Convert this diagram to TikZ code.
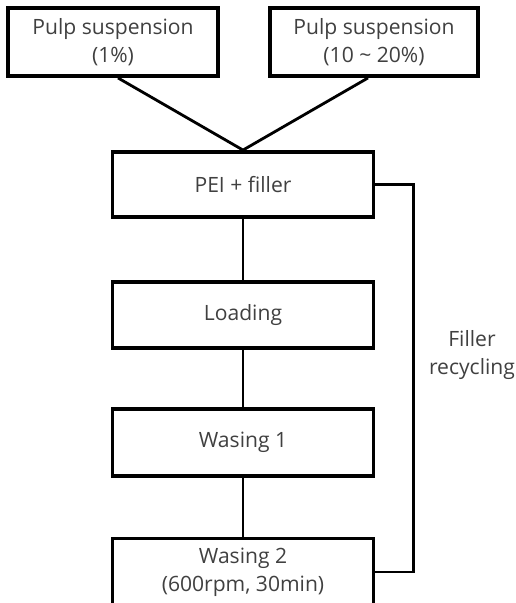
\documentclass[tikz,border=0pt]{standalone}
\usepackage{fontspec}
\setmainfont{Open Sans}
\begin{document}
\begin{tikzpicture}[%
  x=0.02cm,y=-0.02cm,
  step box/.style={draw,line width=2.2pt,text=black!75,align=center,
    inner sep=0pt,font=\fontsize{12}{16}\selectfont},
  lnk/.style={line width=1.6pt},
  w/.style={anchor=west}]
  \useasboundingbox (0,0) rectangle (516,603);
  \node[step box,minimum width=210*0.02cm,minimum height=68*0.02cm] (p1) at (113,42)
    {Pulp suspension\\(1\%)};
  \node[step box,minimum width=208*0.02cm,minimum height=68*0.02cm] (p2) at (374,42)
    {Pulp suspension\\(10 \textasciitilde{} 20\%)};
  \node[step box,minimum width=261*0.02cm,minimum height=65*0.02cm] (pei) at (243,184.5)
    {PEI + filler};
  \node[step box,minimum width=261*0.02cm,minimum height=66*0.02cm] (load) at (243,315)
    {Loading};
  \node[step box,minimum width=261*0.02cm,minimum height=67*0.02cm] (w1) at (243,442.5)
    {Wasing 1};
  \node[step box,minimum width=261*0.02cm,minimum height=67*0.02cm] (w2) at (243,572)
    {Wasing 2\\(600rpm, 30min)};
  \draw[lnk] ([xshift=0.1cm]p1.south) -- (pei.north)
    ([xshift=-0.12cm]p2.south) -- (pei.north);
  \draw[lnk] (pei) -- (load) (load) -- (w1) (w1) -- (w2);
  \draw[line width=1.4pt] (pei.east) -- ++(38,0) |- (w2.east);
  \node[align=center,text=black!75,font=\fontsize{12}{16}\selectfont] (rec) at (472,355)
    {Filler\\recycling};
\end{tikzpicture}
\end{document}
